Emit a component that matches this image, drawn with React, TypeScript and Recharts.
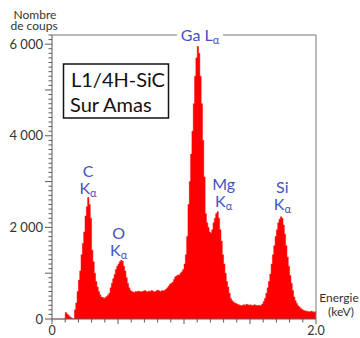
import { Area, AreaChart, ReferenceDot, ReferenceLine, XAxis, YAxis } from "recharts";

// EDS spectrum, 10 eV channels from 0 to 2.0 keV
const channelWidth = 0.01;
const counts = [
  0, 0, 0, 0, 0, 0, 0, 0, 0, 0,
  140, 110, 80, 50, 30, 10, 0, 200, 350, 600,
  850, 1050, 1400, 1650, 1900, 2250, 2450, 2650, 2500, 2200,
  1500, 1250, 1000, 820, 700, 600, 530, 480, 470, 450,
  470, 490, 520, 560, 680, 780, 880, 970, 1080, 1150,
  1200, 1250, 1280, 1260, 1150, 1050, 900, 780, 680, 620,
  600, 590, 580, 600, 590, 610, 600, 590, 600, 610,
  620, 600, 590, 610, 600, 620, 610, 590, 600, 620,
  630, 610, 600, 620, 610, 630, 650, 680, 720, 760,
  780, 800, 860, 920, 940, 960, 960, 1000, 1030, 1080,
  1200, 1400, 1800, 2500, 3000, 3600, 4100, 4700, 5300, 5700,
  5950, 5800, 5300, 4700, 3900, 3100, 2300, 2100, 2000, 1900,
  1870, 1950, 2100, 2200, 2300, 2340, 2200, 1950, 1700, 1400,
  1200, 1000, 820, 700, 560, 450, 400, 370, 350, 340,
  320, 310, 300, 290, 300, 310, 300, 320, 310, 300,
  310, 290, 300, 310, 300, 290, 300, 290, 300, 330,
  380, 450, 560, 680, 820, 980, 1200, 1400, 1600, 1800,
  1950, 2100, 2180, 2230, 2200, 2050, 1850, 1600, 1350, 1150,
  950, 780, 620, 480, 400, 340, 290, 260, 230, 210,
  190, 180, 170, 170, 160, 160, 170, 160, 150, 160,
  160,
];

const xTicks = [0, 0.1, 0.2, 0.3, 0.4, 0.5, 0.6, 0.7, 0.8, 0.9, 1.0, 1.1, 1.2, 1.3, 1.4, 1.5, 1.6, 1.7, 1.8, 1.9, 2.0];
const xLabelled = [0, 2.0];
const yLabelled = [0, 2000, 4000, 6000];
const yMax = 6200;
const yTicks = Array.from({ length: yMax / 100 + 1 }, (_, i) => i * 100);

// peak annotations: [top line, bottom line], position in keV / counts (baseline of bottom line)
const peakLines = [["C", "K"], ["O", "K"], ["Mg", "K"], ["Si", "K"]];
const peakEnergy = [0.273, 0.505, 1.3, 1.745];
const peakCounts = [2730, 1380, 2450, 2380];

const data = counts.map((c, i) => ({ energy: +(i * channelWidth).toFixed(2), counts: c }));

const font = "Lato, 'Open Sans', sans-serif";
const blue = "#4352c4";
const axisColor = "#5a5a5a";

const fmt = (v: number) => (v >= 1000 ? `${Math.floor(v / 1000)} ${String(v % 1000).padStart(3, "0")}` : String(v));

function YTick(props: any) {
  const { x, y, payload } = props;
  const v = payload.value as number;
  const len = v % 1000 === 0 ? 7 : 3.5;
  return (
    <g>
      <line x1={x - len} x2={x} y1={y} y2={y} stroke={axisColor} strokeWidth={1} />
      {yLabelled.includes(v) && (
        <text x={x - 9} y={y + 4.5} textAnchor="end" fontSize={13} fontFamily={font} fill="#333">
          {fmt(v)}
        </text>
      )}
    </g>
  );
}

function XTick(props: any) {
  const { x, y, payload } = props;
  const v = payload.value as number;
  const len = Math.abs(v * 2 - Math.round(v * 2)) < 1e-6 ? 5 : 3.5;
  return (
    <g>
      <line x1={x} x2={x} y1={y} y2={y + len} stroke={axisColor} strokeWidth={1} />
      {xLabelled.includes(v) && (
        <text x={x} y={y + 15.5} textAnchor="middle" fontSize={12.5} fontFamily={font} fill="#333">
          {v === 0 ? "0" : v.toFixed(1)}
        </text>
      )}
    </g>
  );
}

const peakLabel = (lines: string[]) => (props: any) => {
  const { x, y, width, height } = props.viewBox;
  const cx = x + width / 2;
  const cy = y + height / 2;
  return (
    <g fontFamily={font} fill={blue}>
      <text x={cx} y={cy - 17} textAnchor="middle" fontSize={16}>
        {lines[0]}
      </text>
      <text x={cx} y={cy} textAnchor="middle" fontSize={16}>
        <tspan>{lines[1]}</tspan>
        <tspan fontSize={11} dy={3}>α</tspan>
      </text>
    </g>
  );
};

const gaLabel = (props: any) => {
  const { x, y, width, height } = props.viewBox;
  const cx = x + width / 2;
  const cy = y + height / 2;
  return (
    <g fontFamily={font} fill={blue}>
      <rect x={cx - 23} y={cy - 4} width={46} height={8} fill="#fff" />
      <text x={cx} y={cy + 6} textAnchor="middle" fontSize={16}>
        <tspan>Ga L</tspan>
        <tspan fontSize={11} dy={3}>α</tspan>
      </text>
    </g>
  );
};

export default function App() {
  return (
    <div style={{ position: "absolute", left: 0, top: 0, width: 360, height: 338, background: "#fff" }}>
      <AreaChart width={360} height={338} data={data} margin={{ top: 35, right: 44, left: 0, bottom: 0 }}>
        <XAxis
          type="number"
          dataKey="energy"
          domain={[0, 2]}
          ticks={xTicks}
          interval={0}
          height={19}
          tickLine={false}
          tickSize={0}
          tickMargin={0}
          tick={<XTick />}
          axisLine={{ stroke: axisColor }}
        />
        <YAxis
          type="number"
          domain={[0, yMax]}
          ticks={yTicks}
          interval={0}
          width={52}
          tickLine={false}
          tickSize={0}
          tickMargin={0}
          tick={<YTick />}
          axisLine={{ stroke: axisColor }}
        />
        <Area
          type="stepAfter"
          dataKey="counts"
          stroke="#ff0000"
          strokeWidth={0.5}
          fill="#ff0000"
          fillOpacity={1}
          isAnimationActive={false}
          dot={false}
          activeDot={false}
        />
        <ReferenceLine y={yMax} stroke="#777" strokeWidth={1} />
        <ReferenceLine x={2} stroke="#777" strokeWidth={1} />
        {peakLines.map((lines, i) => (
          <ReferenceDot
            key={lines[0]}
            x={peakEnergy[i]}
            y={peakCounts[i]}
            r={1}
            fill="none"
            stroke="none"
            ifOverflow="visible"
            label={{ content: peakLabel(lines) }}
          />
        ))}
        <ReferenceDot x={1.121} y={yMax} r={1} fill="none" stroke="none" ifOverflow="visible" label={{ content: gaLabel }} />
      </AreaChart>
      <svg width={360} height={338} style={{ position: "absolute", left: 0, top: 0, pointerEvents: "none" }}>
        <g fontFamily={font} fontSize={12} fill="#333" textAnchor="middle">
          <text x={35} y={18.5}>Nombre</text>
          <text x={34} y={30}>de coups</text>
          <text x={339} y={302}>Energie</text>
          <text x={341} y={316}>(keV)</text>
        </g>
        <rect x={63.5} y={64} width={105} height={54} fill="#fff" stroke="#111" strokeWidth={1.5} />
        <g fontFamily={font} fontSize={20} fill="#111">
          <text x={71} y={87}>L1/4H-SiC</text>
          <text x={70} y={112}>Sur Amas</text>
        </g>
      </svg>
    </div>
  );
}
